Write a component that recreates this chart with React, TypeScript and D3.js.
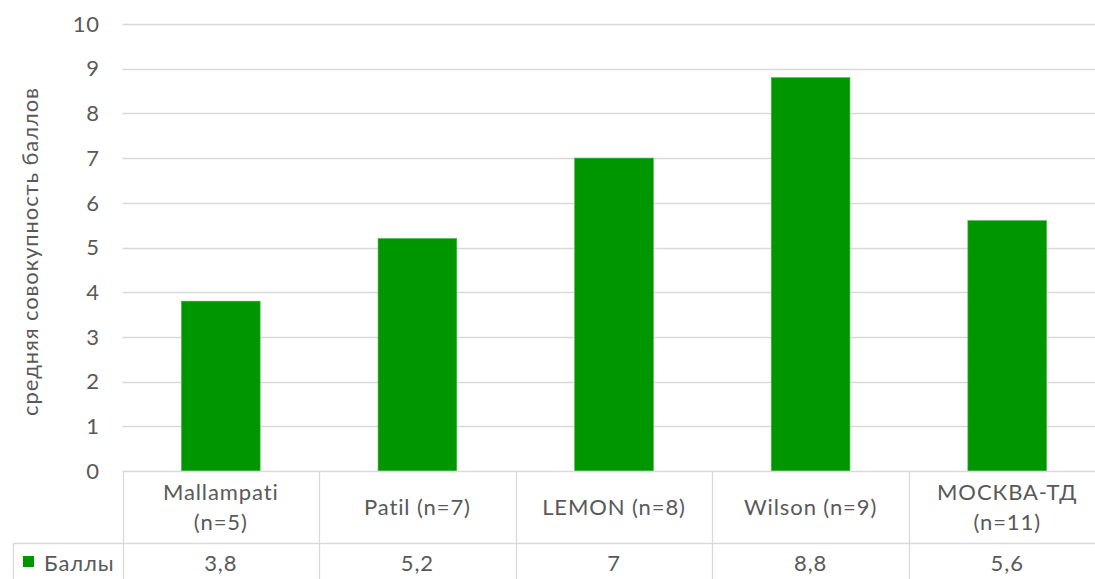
import React from "react";
import * as d3 from "d3";

const categories: string[][] = [
  ["Mallampati", "(n=5)"],
  ["Patil (n=7)"],
  ["LEMON (n=8)"],
  ["Wilson (n=9)"],
  ["МОСКВА-ТД", "(n=11)"],
];
const values: number[] = [3.8, 5.2, 7, 8.8, 5.6];
const valueLabels: string[] = ["3,8", "5,2", "7", "8,8", "5,6"];
const yTicks: number[] = [0, 1, 2, 3, 4, 5, 6, 7, 8, 9, 10];
const seriesName = "Баллы";
const yTitle = "средняя совокупность баллов";

const W = 1095;
const H = 579;
const left = 122.5;
const colW = 196.6;
const top = 24;
const bottom = 471;
const rowSplit = 543;
const font = "Lato, 'Open Sans', sans-serif";
const textColor = "#595959";
const gridColor = "#d9d9d9";
const barColor = "#009600";
const fs = 22;
const ls = 0.9;

export default function App() {
  const idx = categories.map((_, i) => String(i));
  const x = d3.scaleBand<string>().domain(idx).range([left, left + colW * categories.length]).paddingInner(0.6).paddingOuter(0.3);
  const xCol = d3.scaleBand<string>().domain(idx).range([left, left + colW * categories.length]);
  const y = d3.scaleLinear().domain([0, 10]).range([bottom, top]);
  const right = left + colW * categories.length;

  return (
    <svg width={W} height={H} style={{ position: "absolute", left: 0, top: 0, background: "#fff" }} fontFamily={font}>
      {yTicks.map((t) => (
        <g key={t}>
          {t > 0 && <line x1={left} x2={right} y1={Math.round(y(t)) + 0.5} y2={Math.round(y(t)) + 0.5} stroke={gridColor} strokeWidth={1.3} />}
          <text x={100} y={y(t)} dy="0.35em" textAnchor="end" fontSize={fs} letterSpacing={ls} fill={textColor}>{t}</text>
        </g>
      ))}
      <text transform={`translate(30,${(top + bottom) / 2 + 4}) rotate(-90)`} textAnchor="middle" dy="0.35em" fontSize={fs} letterSpacing={ls} fill={textColor}>{yTitle}</text>
      {values.map((v, i) => (
        <rect key={i} x={x(String(i))} width={x.bandwidth()} y={y(v)} height={y(0) - y(v)} fill={barColor} stroke="#3cb43c" strokeWidth={0.6} />
      ))}
      {/* data table */}
      <line x1={left} x2={right} y1={bottom + 0.5} y2={bottom + 0.5} stroke={gridColor} strokeWidth={1.3} />
      <line x1={13} x2={right} y1={rowSplit + 0.5} y2={rowSplit + 0.5} stroke={gridColor} strokeWidth={1.3} />
      <line x1={13.5} x2={13.5} y1={rowSplit} y2={H} stroke={gridColor} strokeWidth={1.3} />
      {idx.map((k) => (
        <line key={k} x1={Math.round(xCol(k)!) + 0.5} x2={Math.round(xCol(k)!) + 0.5} y1={bottom} y2={H} stroke={gridColor} strokeWidth={1.3} />
      ))}
      {categories.map((lines, i) => {
        const cx = xCol(String(i))! + colW / 2;
        const mid = (bottom + rowSplit) / 2;
        const lh = 30;
        const start = mid - ((lines.length - 1) * lh) / 2;
        return (
          <g key={i}>
            {lines.map((ln, j) => (
              <text key={j} x={cx} y={start + j * lh} dy="0.35em" textAnchor="middle" fontSize={fs} letterSpacing={ls} fill={textColor}>{ln}</text>
            ))}
            <text x={cx} y={(rowSplit + H) / 2 + 2} dy="0.35em" textAnchor="middle" fontSize={fs} letterSpacing={ls} fill={textColor}>{valueLabels[i]}</text>
          </g>
        );
      })}
      <rect x={23} y={556} width={11} height={11} fill={barColor} />
      <text x={44} y={(rowSplit + H) / 2 + 2} dy="0.35em" fontSize={fs} letterSpacing={ls} fill={textColor}>{seriesName}</text>
    </svg>
  );
}
